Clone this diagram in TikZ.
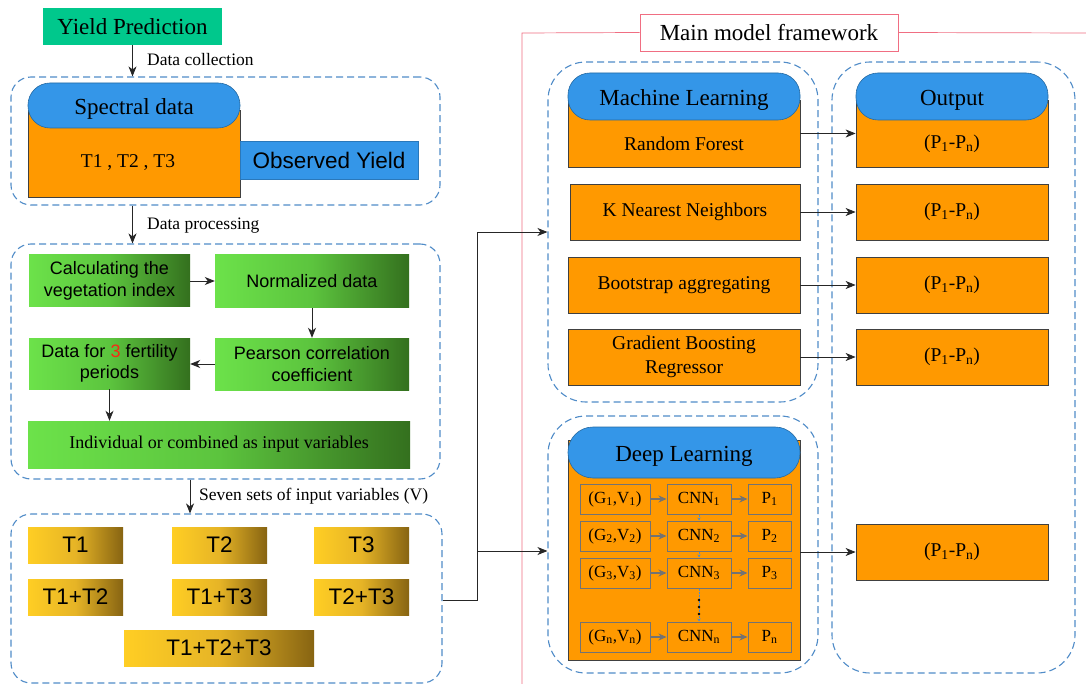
\documentclass[tikz,border=0pt]{standalone}
\usepackage{fontspec}
\setmainfont{Liberation Serif}
\newfontfamily\arialf{Liberation Sans}
\usetikzlibrary{arrows.meta,calc}
\definecolor{ygreen}{RGB}{0,200,140}
\definecolor{orng}{RGB}{255,153,0}
\definecolor{bluep}{RGB}{52,150,232}
\definecolor{dashb}{RGB}{80,140,200}
\definecolor{pinkl}{RGB}{240,110,130}
\definecolor{gL}{RGB}{108,226,74}
\definecolor{gM}{RGB}{92,196,62}
\definecolor{gR}{RGB}{52,112,30}
\definecolor{yL}{RGB}{255,206,36}
\definecolor{yM}{RGB}{230,180,38}
\definecolor{yR}{RGB}{135,100,18}
\definecolor{redt}{RGB}{250,40,20}
\newcommand{\fs}[1]{\fontsize{#1}{\the\dimexpr #1pt*6/5\relax}\selectfont}
\begin{document}
\begin{tikzpicture}[x=1pt,y=-1pt,
  dbox/.style={draw=dashb, line width=1.1pt, dash pattern=on 7pt off 4pt, rounded corners=20pt, inner sep=0pt},
  gbox/.style={left color=gL, right color=gR, middle color=gM, draw=none, inner sep=0pt, font=\arialf\fs{18}, align=center, text=black},
  ybox/.style={left color=yL, right color=yR, middle color=yM, draw=none, inner sep=0pt, minimum width=95, minimum height=36, font=\arialf\fs{22.5}, text=black},
  obox/.style={fill=orng, draw=black!75, line width=0.8pt, inner sep=0pt, font=\fs{19.5}, align=center},
  pill/.style={fill=bluep, draw=bluep!70!black, line width=0.6pt, rounded corners=22pt, inner sep=0pt, font=\fs{23}, text height=18pt, text depth=0pt},
  ibox/.style={fill=orng, draw=black!55, line width=1pt, inner sep=0pt, minimum height=30, font=\fs{17}},
  arr/.style={-{Stealth[length=10pt,width=8pt,inset=3pt]}, line width=0.8pt, draw=black!85},
  iarr/.style={-{Stealth[length=8pt,width=7pt,inset=2.5pt]}, line width=1.6pt, draw=black!55},
  barr/.style={-{Stealth[length=3pt,width=3pt]}, line width=0.5pt, draw=dashb, densely dotted},
  lbl/.style={font=\fs{17.5}, anchor=west, inner sep=0pt}
]
\useasboundingbox (0,0) rectangle (1086,684);
\fill[white] (0,0) rectangle (1086,684);

% ---------- left column ----------
\node[fill=ygreen, minimum width=179, minimum height=37, inner sep=0pt, font=\fs{23}] (yp) at (132.5,26.5) {Yield Prediction};

\node[dbox, minimum width=429, minimum height=128] (grp1) at (225.5,141) {};
\node[obox, minimum width=212, minimum height=87] (spec) at (134,153.5) {};
\node[pill, minimum width=212, minimum height=45] (specp) at (134,105.5) {Spectral data};
\node[font=\fs{19.5}, inner sep=0pt] (tt) at (128,163) {T1 , T2 , T3};
\node[fill=bluep, draw=bluep!80!black, line width=0.5pt, minimum width=178, minimum height=38, inner sep=0pt, font=\arialf\fs{22.5}] (obs) at (329,160) {Observed Yield};

\node[dbox, minimum width=429, minimum height=235] (grp2) at (225.5,361.5) {};
\node[gbox, minimum width=161, minimum height=52] (ga) at (109.5,281) {Calculating the\\vegetation index};
\node[gbox, minimum width=194, minimum height=53] (gb) at (312,281.5) {Normalized data};
\node[gbox, minimum width=194, minimum height=52] (gc) at (312,364) {Pearson correlation\\coefficient};
\node[gbox, minimum width=161, minimum height=51] (gd) at (109.5,363.5) {Data for \textcolor{redt}{3} fertility\\periods};
\node[gbox, minimum width=382, minimum height=47, font=\fs{18}] (ge) at (219,444.5) {Individual or combined as input variables};

\node[dbox, minimum width=431, minimum height=169] (grp3) at (226.5,598.5) {};
\node[ybox] (t1) at (75.5,545) {T1};
\node[ybox] (t2) at (219.5,545) {T2};
\node[ybox] (t3) at (361.5,545) {T3};
\node[ybox] (t12) at (75.5,597) {T1+T2};
\node[ybox] (t13) at (219.5,597) {T1+T3};
\node[ybox] (t23) at (361.5,597) {T2+T3};
\node[ybox, minimum width=190] (t123) at (219,648) {T1+T2+T3};

\draw[arr] (yp.south) -- (grp1.north -| yp.south);
\node[lbl] (l1) at (147,60) {Data collection};
\draw[arr] (grp1.south -| yp.south) -- (grp2.north -| yp.south);
\node[lbl] (l2) at (147,226) {Data processing};
\draw[arr] ($(grp2.south)+(-35.5,0)$) -- ($(grp3.north)+(-36.5,0)$);
\node[lbl] (l3) at (199,496) {Seven sets of input variables (V)};

\draw[arr] (ga.east) -- (gb.west |- ga.east);
\draw[arr] (gb.south) -- (gc.north);
\draw[arr] (gc.west) -- (gd.east |- gc.west);
\draw[arr] (gd.south) -- (ge.north -| gd.south);

% ---------- frame ----------
\node[draw=pinkl, line width=0.8pt, fill=white, minimum width=258, minimum height=37, inner sep=0pt, font=\fs{23}] (mt) at (769,32.5) {Main model framework};
\draw[pinkl, line width=0.7pt] (522,684) -- (522,33) -- (mt.west);
\draw[pinkl, line width=0.7pt] (mt.east) -- (1086,33);

% ---------- right groups ----------
\node[dbox, rounded corners=38pt, minimum width=270, minimum height=340] (mlg) at (683,232) {};
\node[dbox, rounded corners=38pt, minimum width=243, minimum height=611] (outg) at (953.5,367.5) {};
\node[dbox, rounded corners=38pt, minimum width=270, minimum height=257] (dlg) at (683,544.5) {};

\node[obox, minimum width=232, minimum height=67] (rf) at (684,133.5) {};
\node[pill, minimum width=232, minimum height=47] (mlp) at (684,96.5) {Machine Learning};
\node[font=\fs{19.5}, inner sep=0pt] (rft) at (684,144) {Random Forest};
\node[obox, minimum width=230, minimum height=56] (knn) at (685,212) {K Nearest Neighbors};
\node[obox, minimum width=232, minimum height=56] (bag) at (684,285) {Bootstrap aggregating};
\node[obox, minimum width=232, minimum height=56] (gbr) at (684,357) {Gradient Boosting\\Regressor};

\node[obox, minimum width=192, minimum height=67] (o1) at (952,133.5) {};
\node[pill, minimum width=192, minimum height=47] (op) at (952,96.5) {Output};
\node[font=\fs{19.5}, inner sep=0pt] (o1t) at (952,144) {(P\textsubscript{1}-P\textsubscript{n})};
\node[obox, minimum width=192, minimum height=56] (o2) at (952,212) {(P\textsubscript{1}-P\textsubscript{n})};
\node[obox, minimum width=192, minimum height=56] (o3) at (952,285) {(P\textsubscript{1}-P\textsubscript{n})};
\node[obox, minimum width=192, minimum height=56] (o4) at (952,357) {(P\textsubscript{1}-P\textsubscript{n})};
\node[obox, minimum width=192, minimum height=56] (o5) at (952,552) {(P\textsubscript{1}-P\textsubscript{n})};

\node[obox, minimum width=232, minimum height=220] (dl) at (684,550) {};
\node[pill, minimum width=232, minimum height=51, rounded corners=25pt] (dlp) at (684,452.5) {Deep Learning};

\foreach \i/\y/\s in {1/499/1,2/536/2,3/573/3,n/637/n}{
  \node[ibox, minimum width=70] (gv\i) at (615,\y) {(G\textsubscript{\s},V\textsubscript{\s})};
  \node[ibox, minimum width=64] (cnn\i) at (699,\y) {CNN\textsubscript{\s}};
  \node[ibox, minimum width=43] (pp\i) at (769.5,\y) {P\textsubscript{\s}};
  \draw[iarr] (gv\i) -- (cnn\i);
  \draw[iarr] (cnn\i) -- (pp\i);
}
\draw[barr] (cnn1) -- (cnn2);
\draw[barr] (cnn2) -- (cnn3);
\draw[barr] (cnn3) -- (cnnn);
\foreach \yy in {600,607,614}{\fill[black] (699,\yy) circle (1.3pt);}

% ---------- connectors ----------
\draw[arr] (rf.east) -- (o1.west);
\draw[arr] (knn.east) -- (o2.west);
\draw[arr] (bag.east) -- (o3.west);
\draw[arr] (gbr.east) -- (o4.west);
\draw[arr] (dl.east |- o5.west) -- (o5.west);

\coordinate (j1) at (477,600);
\coordinate (j2) at (477,232);
\coordinate (j3) at (477,551);
\draw[line width=0.8pt, black!85] (grp3.east |- j1) -- (j1) -- (j2);
\draw[arr] (j2) -- (mlg.west |- j2);
\draw[arr] (j3) -- (dlg.west |- j3);
\end{tikzpicture}
\end{document}
